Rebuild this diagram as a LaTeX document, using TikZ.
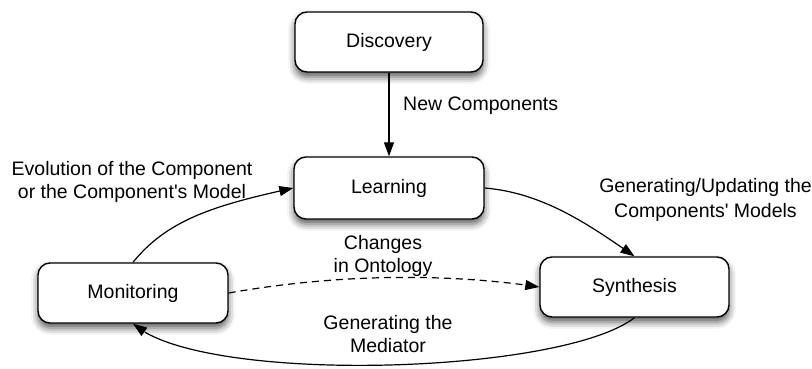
\documentclass[tikz,border=0pt]{standalone}
\usepackage{fontspec}
\newfontfamily\lsans{Liberation Sans}
\usetikzlibrary{arrows.meta,shadows.blur,bending}
\begin{document}
\begin{tikzpicture}[x=1pt,y=1pt,
  box/.style={draw=black, line width=1.4pt, rounded corners=12pt, fill=white,
    minimum width=188pt, minimum height=60pt, inner sep=0pt,
    font=\lsans\fontsize{19.5}{23}\selectfont,
    blur shadow={shadow xshift=0pt, shadow yshift=-5pt, shadow blur radius=7pt, shadow opacity=65}},
  lbl/.style={font=\lsans\fontsize{19.5}{22.5}\selectfont, align=center, inner sep=0pt},
  conn/.style={line width=1.2pt, -{Triangle[length=14pt,width=10pt]}},
]
\useasboundingbox (0,0) rectangle (812,-369);
\node[box] (disc) at (389,-42) {Discovery};
\node[box, minimum width=190pt, minimum height=62pt] (learn) at (389,-188) {Learning};
\node[box, minimum width=190pt] (mon) at (133,-293) {Monitoring};
\node[box, minimum width=189pt] (syn) at (634.5,-287) {Synthesis};

\node[lbl, anchor=west] (lnew) at (403,-106) {New Components};
\node[lbl] (levo) at (132,-182) {Evolution of the Component\\or the Component's Model};
\node[lbl] (lchg) at (383,-256) {Changes\\in Ontology};
\node[lbl] (lmed) at (388,-334) {Generating the\\Mediator};
\node[lbl] (lgen) at (705.5,-200) {Generating/Updating the\\[3pt]Components' Models};

\draw[conn] (disc) -- (learn);
\draw[conn] (mon.north) .. controls (168,-219) and (216,-205) .. (learn.west);
\draw[conn] (learn.east) .. controls (545,-193) and (592,-227) .. (syn.north);
\draw[conn, dash pattern=on 7pt off 5pt] (mon.east) .. controls (330,-275) and (440,-272) .. (syn.west);
\draw[conn] (syn.south) .. controls (560,-375) and (200,-385) .. (mon.south);
\end{tikzpicture}
\end{document}
